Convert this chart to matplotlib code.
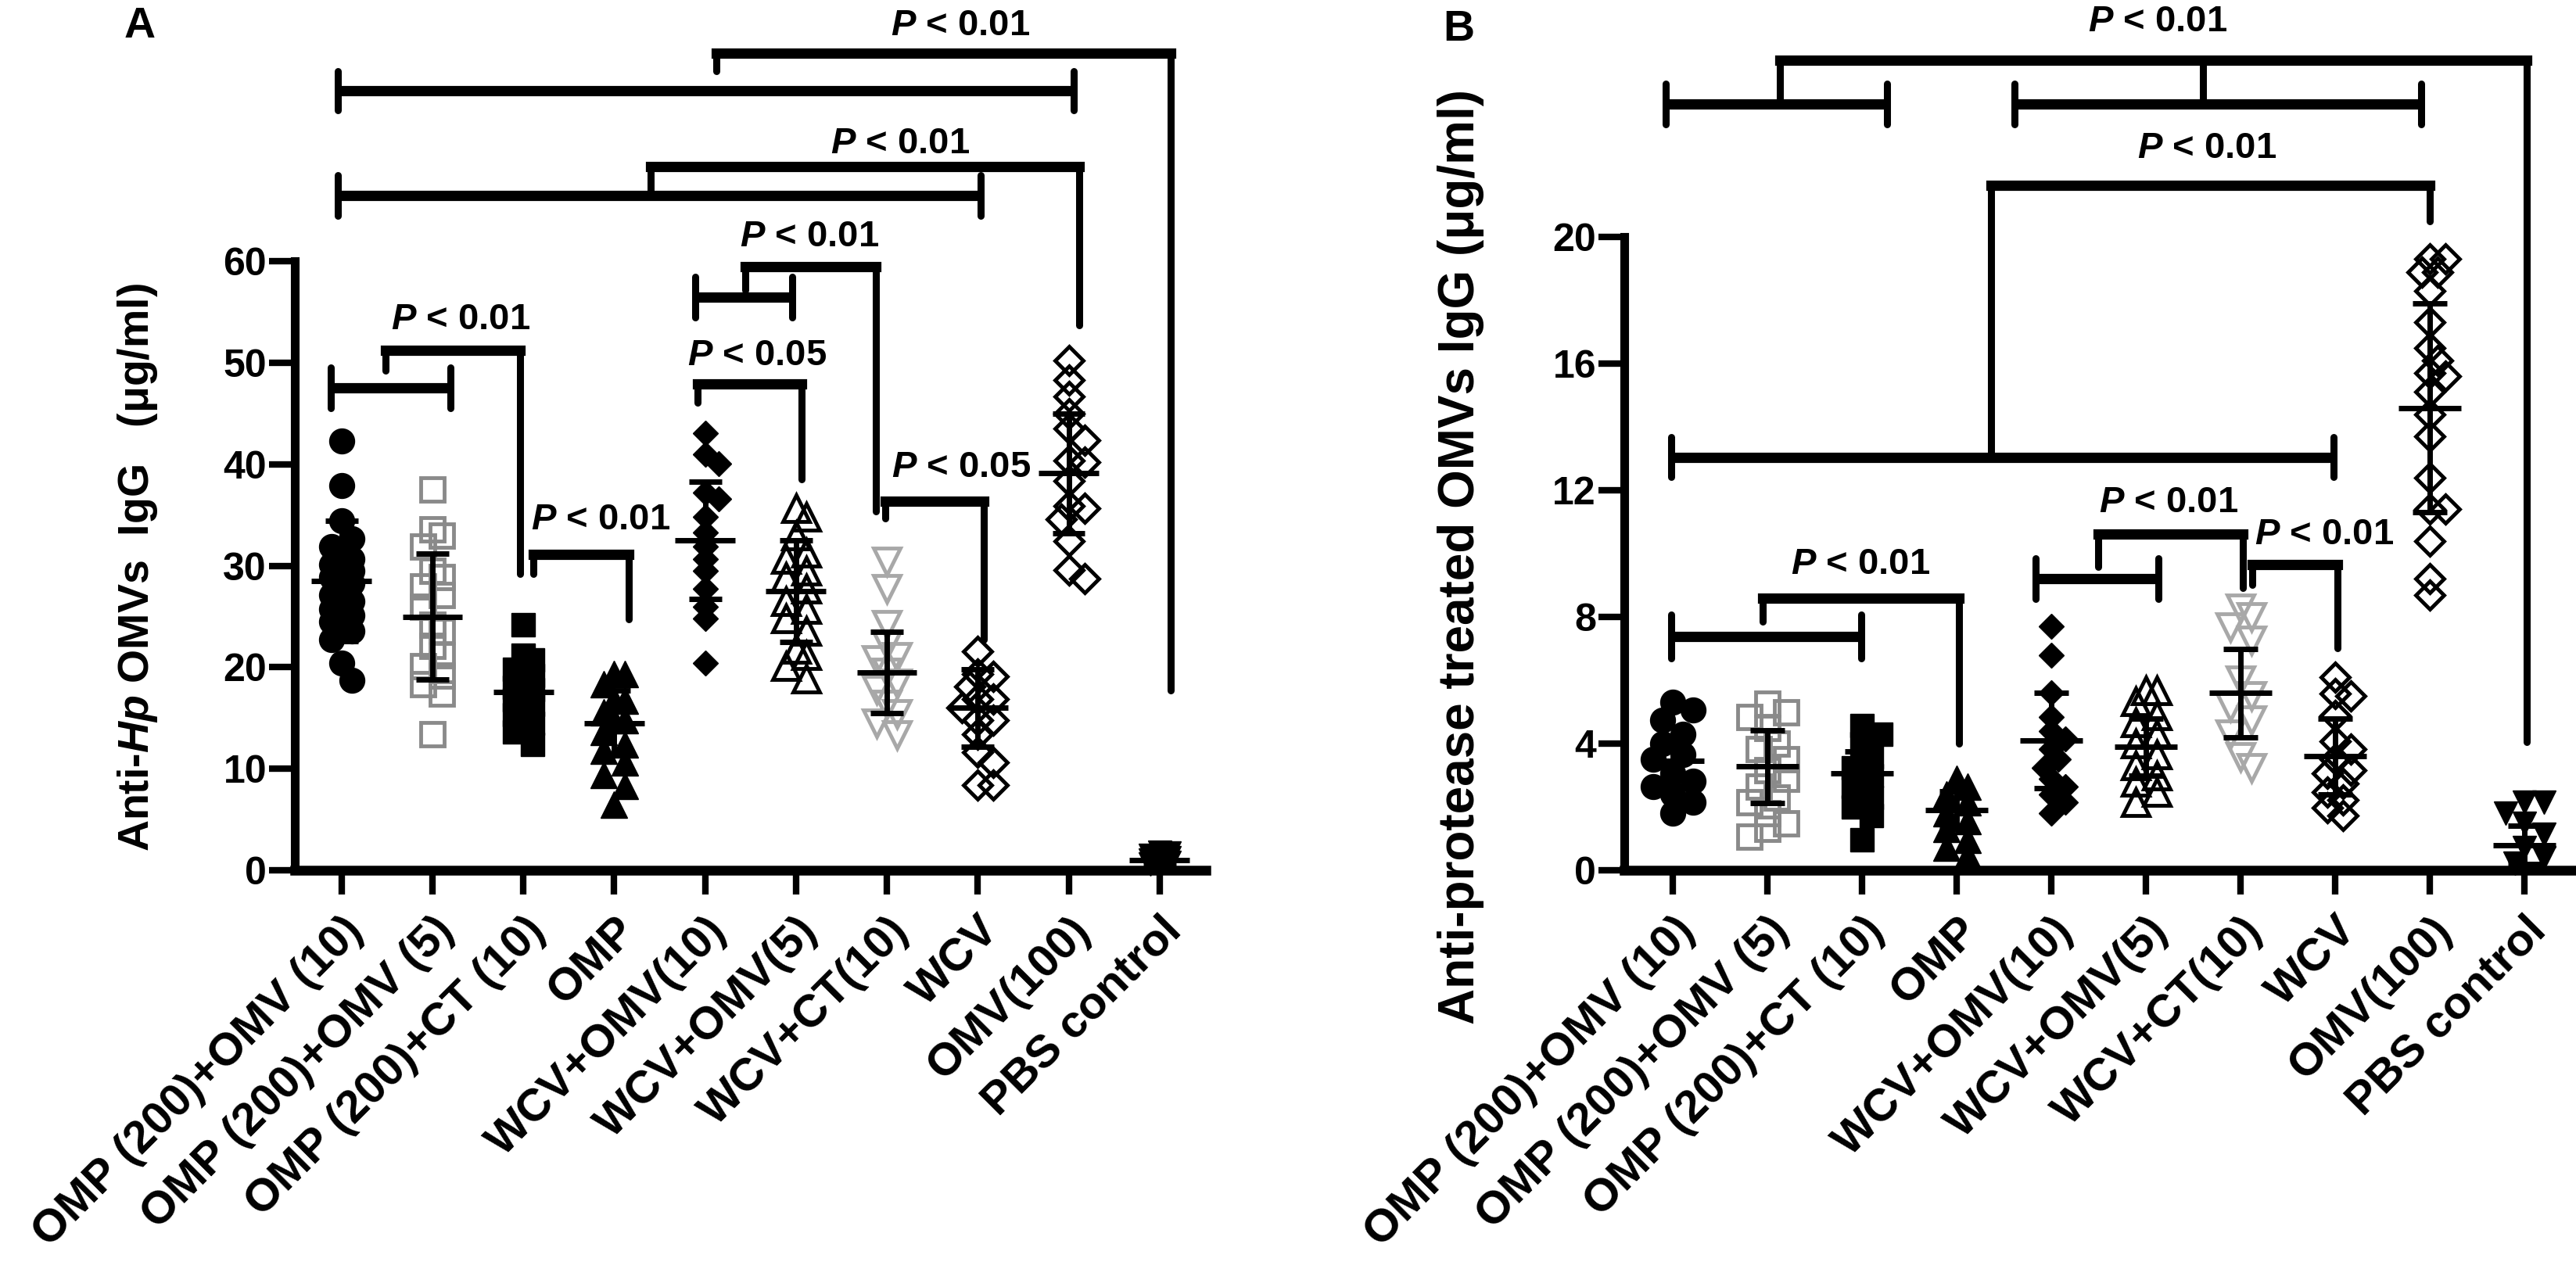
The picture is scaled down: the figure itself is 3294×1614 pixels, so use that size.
import numpy as np
import matplotlib
matplotlib.use("Agg")
import matplotlib.pyplot as plt

plt.rcParams['font.family'] = ['Liberation Sans', 'DejaVu Sans']
plt.rcParams['mathtext.fontset'] = 'custom'
plt.rcParams['mathtext.it'] = 'Liberation Sans:italic:bold'
plt.rcParams['mathtext.rm'] = 'Liberation Sans:bold'
plt.rcParams['mathtext.bf'] = 'Liberation Sans:bold'

groups = ['OMP (200)+OMV (10)', 'OMP (200)+OMV (5)', 'OMP (200)+CT (10)', 'OMP',
          'WCV+OMV(10)', 'WCV+OMV(5)', 'WCV+CT(10)', 'WCV', 'OMV(100)', 'PBS control']

# panel A: anti-Hp OMVs IgG (ug/ml)
a_omp_omv10 = [42.3, 37.9, 34.4, 32.7, 31.9, 30.7, 30.1, 29.5, 28.9, 28.3, 27.1, 26.5, 26.0, 25.7, 25.1, 24.5, 23.6, 22.7, 20.4, 18.7]
a_omp_omv5 = [37.5, 33.6, 33.0, 31.9, 29.5, 28.9, 28.0, 27.1, 26.0, 24.2, 23.6, 22.1, 21.2, 20.1, 19.2, 18.3, 17.4, 13.4]
a_omp_ct = [24.2, 21.2, 20.7, 19.8, 19.2, 18.9, 18.0, 17.8, 17.4, 16.8, 16.3, 15.9, 15.3, 14.5, 13.6, 12.4]
a_omp = [19.3, 19.3, 18.3, 16.8, 16.7, 15.6, 14.8, 14.8, 13.6, 12.4, 11.8, 10.6, 9.4, 8.3, 6.5]
a_wcv_omv10 = [43.1, 41.0, 40.1, 37.2, 36.6, 34.8, 33.3, 31.9, 30.7, 29.5, 27.7, 26.0, 24.8, 20.4]
a_wcv_omv5 = [35.7, 34.8, 33.0, 31.3, 30.7, 29.5, 28.9, 27.7, 26.5, 25.7, 24.8, 23.6, 21.8, 21.2, 20.1, 18.9]
a_wcv_ct = [30.4, 27.7, 24.2, 22.2, 21.0, 20.7, 19.5, 18.4, 17.8, 16.3, 15.4, 14.5, 13.3]
a_wcv = [21.6, 19.3, 19.1, 18.1, 16.9, 16.9, 16.0, 14.8, 14.8, 13.4, 11.6, 10.6, 8.4, 8.4]
a_omv = [50.2, 48.3, 46.7, 45.0, 43.5, 42.4, 40.4, 40.2, 38.4, 35.9, 35.7, 34.6, 32.4, 29.6, 28.7]
a_pbs = [1.8, 1.7, 1.5, 1.4, 1.2, 1.0, 0.9, 0.8, 0.6, 0.4]
a_mean = [28.5, 25.0, 17.6, 14.5, 32.5, 27.5, 19.5, 16.0, 39.1, 1.0]
a_sd = [5.9, 6.2, 2.7, 3.2, 5.8, 5.0, 4.0, 3.8, 5.9, 0.5]

# panel B: anti-protease treated OMVs IgG (ug/ml)
b_omp_omv10 = [5.3, 5.05, 4.75, 4.3, 4.0, 3.65, 3.5, 3.07, 2.82, 2.65, 2.4, 2.15, 1.8]
b_omp_omv5 = [5.25, 5.0, 4.84, 4.5, 4.0, 3.82, 3.5, 3.15, 2.9, 2.65, 2.3, 2.15, 1.81, 1.47, 1.3, 1.05]
b_omp_ct = [4.57, 4.3, 4.0, 3.57, 3.23, 2.98, 2.65, 2.3, 2.0, 1.73, 0.97]
b_omp = [2.9, 2.65, 2.4, 2.15, 1.81, 1.55, 1.3, 0.97, 0.72, 0.47]
b_wcv_omv10 = [7.7, 6.8, 5.6, 4.84, 4.4, 4.15, 3.82, 3.5, 3.23, 2.9, 2.65, 2.4, 2.15, 1.81]
b_wcv_omv5 = [5.68, 5.68, 5.33, 4.9, 4.67, 4.3, 4.0, 3.65, 3.32, 2.98, 2.8, 2.48, 2.15]
b_wcv_ct = [8.27, 8.0, 7.68, 7.26, 6.0, 5.5, 5.15, 4.75, 4.3, 3.57, 3.23]
b_wcv = [6.1, 5.58, 5.5, 4.9, 4.07, 3.82, 3.5, 3.15, 3.07, 2.73, 2.48, 2.23, 1.97, 1.72]
b_omv = [19.3, 19.3, 18.9, 18.9, 18.3, 17.3, 16.5, 16.1, 15.7, 15.6, 15.1, 14.4, 13.7, 12.4, 11.4, 11.4, 10.4, 9.2, 8.7]
b_pbs = [2.15, 2.15, 1.81, 1.47, 1.13, 0.72, 0.39, 0.22]
b_mean = [3.45, 3.28, 3.05, 1.9, 4.1, 3.9, 5.6, 3.6, 14.6, 0.8]
b_sd = [0.8, 1.15, 0.7, 0.6, 1.5, 0.9, 1.4, 1.2, 3.3, 0.6]

a_vals = [a_omp_omv10, a_omp_omv5, a_omp_ct, a_omp, a_wcv_omv10, a_wcv_omv5, a_wcv_ct, a_wcv, a_omv, a_pbs]
b_vals = [b_omp_omv10, b_omp_omv5, b_omp_ct, b_omp, b_wcv_omv10, b_wcv_omv5, b_wcv_ct, b_wcv, b_omv, b_pbs]

styles = [
    dict(marker='o', mfc='black', mec='black', ms=23),
    dict(marker='s', mfc='none', mec='#8a8a8a', ms=21),
    dict(marker='s', mfc='black', mec='black', ms=21),
    dict(marker='^', mfc='black', mec='black', ms=24),
    dict(marker='D', mfc='black', mec='black', ms=16),
    dict(marker='^', mfc='none', mec='black', ms=24),
    dict(marker='v', mfc='none', mec='#a8a8a8', ms=24),
    dict(marker='D', mfc='none', mec='black', ms=18),
    dict(marker='D', mfc='none', mec='black', ms=18),
    dict(marker='v', mfc='black', mec='black', ms=22),
]


def swarm(vals, ppu_y, ppu_x, diam, maxoff):
    # spread points sideways so they don't sit on top of each other (pixels)
    vals = np.asarray(vals, float)
    order = np.argsort(-vals, kind='stable')
    step = diam * 0.4
    cands = [0.0]
    k = 1
    while k * step <= maxoff:
        cands += [k * step, -k * step]
        k += 1
    placed = []
    offs = np.zeros(len(vals))
    for idx in order:
        y = vals[idx] * ppu_y
        best, best_d = 0.0, -1.0
        for c in cands:
            d = min([np.hypot(c - px, y - py) for px, py in placed], default=1e9)
            if d >= diam * 0.7:
                best = c
                break
            if d > best_d:
                best_d, best = d, c
        placed.append((best, y))
        offs[idx] = best / ppu_x
    return offs


def draw_panel(ax, vals, means, sds, ytop, yticks, spine_top, ppu_y, ppu_x, spread):
    for i, v in enumerate(vals):
        st = styles[i]
        mew = 3.5 if st['mfc'] == 'none' else 1
        offs = swarm(v, ppu_y, ppu_x, st['ms'] * 1.39, spread)
        ax.plot(i + offs, v, ls='none', mew=mew, clip_on=False, zorder=3, **st)
    for i, (m, s) in enumerate(zip(means, sds)):
        kw = dict(color='black', lw=5, clip_on=False, zorder=4, solid_capstyle='butt')
        ax.plot([i - 0.33, i + 0.33], [m, m], **kw)
        ax.plot([i, i], [m - s, m + s], **kw)
        ax.plot([i - 0.18, i + 0.18], [m + s, m + s], **kw)
        ax.plot([i - 0.18, i + 0.18], [m - s, m - s], **kw)
    ax.set_xlim(-0.514, 9.51)
    ax.set_ylim(0, ytop)
    ax.set_yticks(yticks)
    ax.set_yticklabels([str(t) for t in yticks], fontsize=36, fontweight='bold')
    ax.set_xticks(range(len(groups)))
    ax.set_xticklabels(groups, rotation=45, ha='right', va='top', rotation_mode='anchor',
                       fontsize=42, fontweight='bold')
    ax.tick_params(axis='y', length=24, width=6, pad=2)
    ax.tick_params(axis='x', length=22, width=6, pad=14)
    for sp in ['top', 'right']:
        ax.spines[sp].set_visible(False)
    ax.spines['left'].set_linewidth(8)
    ax.spines['bottom'].set_linewidth(9)
    ax.spines['left'].set_bounds(0, spine_top)
    ax.patch.set_alpha(0)


def hcap(ax, x0, x1, y, h):
    ax.plot([x0, x1], [y, y], color='black', lw=9.5, solid_capstyle='butt', clip_on=False)
    for x in (x0, x1):
        ax.plot([x, x], [y - h, y + h], color='black', lw=6.5, solid_capstyle='round', clip_on=False)


def link(ax, xl, yl, xr, yr, ytop):
    ax.plot([xl, xr], [ytop, ytop], color='black', lw=9.5, solid_capstyle='projecting', clip_on=False)
    ax.plot([xl, xl], [yl, ytop], color='black', lw=6.5, solid_capstyle='round', clip_on=False)
    ax.plot([xr, xr], [yr, ytop], color='black', lw=6.5, solid_capstyle='round', clip_on=False)


def ptext(ax, x, y, p):
    ax.text(x, y, r'$P$ < ' + p, ha='center', va='center', fontsize=34, fontweight='bold', clip_on=False)


fig = plt.figure(figsize=(32.94, 16.14), dpi=100)
W, H = 3294, 1614
ax_a = fig.add_axes([377 / W, (H - 1113) / H, 1165 / W, 1113 / H])
ax_b = fig.add_axes([2077 / W, (H - 1113) / H, 1213 / W, 1113 / H])

draw_panel(ax_a, a_vals, a_mean, a_sd, 1113 / 12.98, [0, 10, 20, 30, 40, 50, 60], 60, 12.98, 116.3, 23)
draw_panel(ax_b, b_vals, b_mean, b_sd, 1113 / 40.5, [0, 4, 8, 12, 16, 20], 20, 40.5, 121.0, 26)

# significance brackets, panel A
for x0, x1, y, h in [(-0.04, 8.06, 76.8, 1.9), (-0.04, 7.03, 66.5, 2.0),
                     (3.89, 4.96, 56.5, 2.0), (-0.12, 1.20, 47.5, 2.0)]:
    hcap(ax_a, x0, x1, y, h)
for xl, yl, xr, yr, yt in [(4.12, 78.7, 9.12, 17.7, 80.5), (3.40, 66.8, 8.12, 53.7, 69.3),
                           (4.44, 57.2, 5.88, 35.4, 59.5), (3.92, 46.1, 5.06, 38.5, 47.9),
                           (5.98, 34.7, 7.07, 22.7, 36.4), (0.48, 49.2, 1.96, 29.2, 51.2),
                           (2.11, 29.2, 3.16, 24.7, 31.1)]:
    link(ax_a, xl, yl, xr, yr, yt)
for x, y, p in [(6.81, 83.2, '0.01'), (6.15, 71.6, '0.01'), (5.15, 62.4, '0.01'),
                (4.57, 50.7, '0.05'), (6.82, 39.7, '0.05'), (1.31, 54.2, '0.01'),
                (2.85, 34.5, '0.01')]:
    ptext(ax_a, x, y, p)

# significance brackets, panel B
for x0, x1, y, h in [(-0.08, 2.26, 24.2, 0.65), (3.61, 7.91, 24.2, 0.65),
                     (-0.02, 6.98, 13.04, 0.63), (-0.02, 1.99, 7.38, 0.69),
                     (3.83, 5.13, 9.21, 0.65)]:
    hcap(ax_b, x0, x1, y, h)
for xl, yl, xr, yr, yt in [(1.13, 24.3, 9.02, 4.05, 25.58), (3.36, 13.04, 8.0, 20.5, 21.63),
                           (0.95, 7.85, 3.02, 4.0, 8.59), (4.49, 9.58, 6.02, 8.91, 10.62),
                           (6.12, 9.01, 7.02, 7.01, 9.65)]:
    link(ax_b, xl, yl, xr, yr, yt)
ax_b.plot([5.60, 5.60], [24.3, 25.58], color='black', lw=6.5, clip_on=False)
for x, y in [(5.12, 26.8), (5.64, 22.8), (1.98, 9.65), (5.24, 11.6), (6.88, 10.6)]:
    ptext(ax_b, x, y, '0.01')

# axis titles
ax_a.text(-0.1725, 0.348, r'Anti-$Hp$ OMVs  IgG   (μg/ml)', transform=ax_a.transAxes,
          rotation=90, ha='center', va='center', fontsize=40, fontweight='bold')
ax_b.text(-0.1723, 0.36, 'Anti-protease treated OMVs IgG (μg/ml)', transform=ax_b.transAxes,
          rotation=90, ha='center', va='center', fontsize=46, fontweight='bold')

fig.text(179 / W, 1 - 34 / H, 'A', ha='center', va='center', fontsize=40, fontweight='bold')
fig.text(1865 / W, 1 - 38 / H, 'B', ha='center', va='center', fontsize=40, fontweight='bold')

fig.savefig('out.png', dpi=100)
